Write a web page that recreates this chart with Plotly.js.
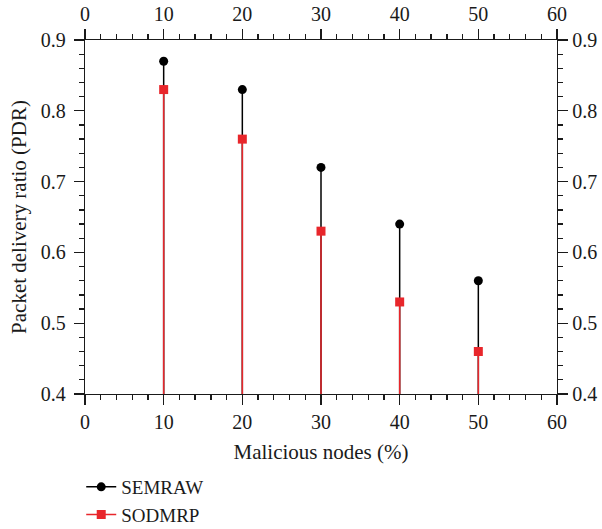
<!DOCTYPE html>
<html>
<head>
<meta charset="utf-8">
<script src="https://cdn.plot.ly/plotly-3.0.1.min.js"></script>
<style>html,body{margin:0;padding:0;background:#fff;}#chart{width:602px;height:529px;}</style>
</head>
<body>
<div id="chart"></div>
<script>
const maliciousNodes = [10, 20, 30, 40, 50];
const semraw = [0.87, 0.83, 0.72, 0.64, 0.56];
const sodmrp = [0.83, 0.76, 0.63, 0.53, 0.46];
const seriesNames = ['SEMRAW', 'SODMRP'];
const baseValue = 0.4;
const xTickVals = [0, 10, 20, 30, 40, 50, 60];
const yTickVals = [0.4, 0.5, 0.6, 0.7, 0.8, 0.9];

const BLACK = '#000000';
const RED = '#e8262b';
const INK = '#1a1a1a';
const FONT = 'Liberation Serif, Times New Roman, serif';

function stemXY(xs, ys) {
  const x = [], y = [];
  xs.forEach((v, i) => { x.push(v, v, null); y.push(baseValue, ys[i], null); });
  return {x, y};
}
function gapXY(xs, ys) {
  const x = [], y = [];
  xs.forEach((v, i) => { x.push(v, null); y.push(ys[i], null); });
  return {x, y};
}

const s1 = stemXY(maliciousNodes, semraw);
const s2 = stemXY(maliciousNodes, sodmrp);
const m1 = gapXY(maliciousNodes, semraw);
const m2 = gapXY(maliciousNodes, sodmrp);

const traces = [
  {x: s1.x, y: s1.y, mode: 'lines', line: {color: BLACK, width: 1.5}, showlegend: false, hoverinfo: 'skip', cliponaxis: false},
  {x: s2.x, y: s2.y, mode: 'lines', line: {color: RED, width: 1.5}, showlegend: false, hoverinfo: 'skip', cliponaxis: false},
  {x: m1.x, y: m1.y, name: seriesNames[0], mode: 'lines+markers', connectgaps: false,
   line: {color: BLACK, width: 1.5}, marker: {symbol: 'circle', size: 9, color: BLACK}, cliponaxis: false},
  {x: m2.x, y: m2.y, name: seriesNames[1], mode: 'lines+markers', connectgaps: false,
   line: {color: RED, width: 1.5}, marker: {symbol: 'square', size: 9, color: RED}, cliponaxis: false},
  // mirrored axes (top / right) carry the same data invisibly so they get drawn
  {x: m1.x, y: m1.y, xaxis: 'x2', yaxis: 'y2', mode: 'markers', marker: {opacity: 0, size: 1}, showlegend: false, hoverinfo: 'skip'}
];

const tickFont = {family: FONT, size: 20, color: INK};
const minorX = {dtick: 2, ticklen: 5, tickwidth: 1.3, tickcolor: INK, ticks: 'outside'};
const minorY = {dtick: 0.02, ticklen: 5, tickwidth: 1.3, tickcolor: INK, ticks: 'outside'};
const common = {
  showgrid: false, zeroline: false, showline: true, linecolor: INK, linewidth: 1.3,
  ticks: 'outside', ticklen: 10, tickwidth: 1.3, tickcolor: INK, tickfont: tickFont
};

const layout = {
  width: 602, height: 529,
  margin: {l: 85, r: 45, t: 40, b: 135, autoexpand: false},
  paper_bgcolor: '#fff', plot_bgcolor: '#fff',
  font: {family: FONT, color: INK},
  xaxis: Object.assign({}, common, {
    range: [0, 60], tickvals: xTickVals, ticktext: xTickVals.map(String), minor: minorX,
    title: {text: 'Malicious nodes (%)', font: {family: FONT, size: 21, color: INK}, standoff: 12}
  }),
  xaxis2: Object.assign({}, common, {
    range: [0, 60], tickvals: xTickVals, ticktext: xTickVals.map(String), minor: minorX,
    overlaying: 'x', side: 'top', anchor: 'y2'
  }),
  yaxis: Object.assign({}, common, {
    range: [0.4, 0.9], tickvals: yTickVals, ticktext: yTickVals.map(v => v.toFixed(1)), minor: minorY,
    ticklabelstandoff: 4,
    title: {text: 'Packet delivery ratio (PDR)', font: {family: FONT, size: 21, color: INK}, standoff: 8}
  }),
  yaxis2: Object.assign({}, common, {
    range: [0.4, 0.9], tickvals: yTickVals, ticktext: yTickVals.map(v => v.toFixed(1)), minor: minorY,
    overlaying: 'y', side: 'right', anchor: 'x2'
  }),
  showlegend: true,
  legend: {
    x: -0.008, xanchor: 'left', y: -0.209, yanchor: 'top',
    font: {family: FONT, size: 19, color: INK},
    bgcolor: 'rgba(0,0,0,0)', tracegroupgap: 0, itemwidth: 30
  }
};

Plotly.newPlot('chart', traces, layout, {displayModeBar: false, staticPlot: true});
</script>
</body>
</html>
